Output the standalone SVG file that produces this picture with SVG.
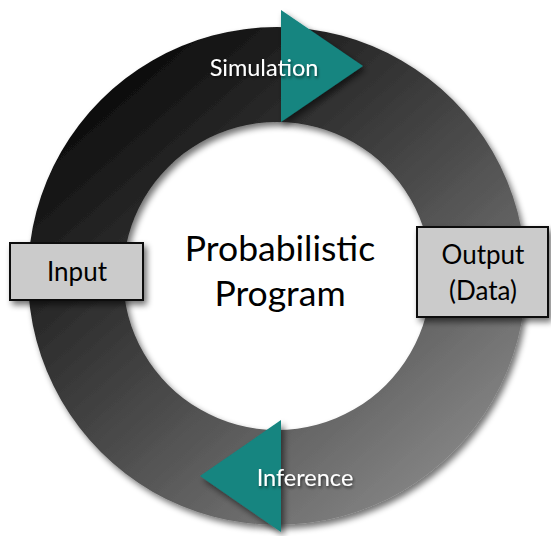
<svg xmlns="http://www.w3.org/2000/svg" width="551" height="536" viewBox="0 0 551 536">
<defs>
<linearGradient id="ringGrad" x1="0.15" y1="0.1" x2="0.85" y2="0.9">
<stop offset="0" stop-color="#0a0a0a"/>
<stop offset="0.5" stop-color="#464646"/>
<stop offset="1" stop-color="#858585"/>
</linearGradient>
<filter id="shadow" x="-20%" y="-20%" width="150%" height="150%">
<feGaussianBlur in="SourceAlpha" stdDeviation="3"/>
<feOffset dx="3" dy="4" result="b"/>
<feComponentTransfer><feFuncA type="linear" slope="0.55"/></feComponentTransfer>
<feMerge><feMergeNode/><feMergeNode in="SourceGraphic"/></feMerge>
</filter>
<filter id="tshadow" x="-20%" y="-30%" width="140%" height="170%">
<feGaussianBlur in="SourceAlpha" stdDeviation="1.5"/>
<feOffset dx="1" dy="2"/>
<feComponentTransfer><feFuncA type="linear" slope="0.6"/></feComponentTransfer>
<feMerge><feMergeNode/><feMergeNode in="SourceGraphic"/></feMerge>
</filter>
</defs>
<style>
.box{fill:#cbcbcb;stroke:#111;stroke-width:2}
.lbl{font-family:Lato,"Open Sans","Liberation Sans",sans-serif;fill:#000;text-anchor:middle}
.wl{font-family:Lato,"Open Sans","Liberation Sans",sans-serif;fill:#fff;font-size:23.5px;text-anchor:middle}
.arrow{fill:#138580}
</style>
<rect width="551" height="536" fill="#fff"/>
<g id="connectors">
<path d="M277,27 A249,249 0 1 1 276.9,27 Z M277,122 A154,154 0 1 0 277.1,122 Z" fill="url(#ringGrad)" fill-rule="evenodd" filter="url(#shadow)"/>
<polygon class="arrow" points="281,10 363,66 281,122" filter="url(#shadow)"/>
<polygon class="arrow" points="281,420 200,476 281,532" filter="url(#shadow)"/>
<text class="wl" x="264" y="76" filter="url(#tshadow)">Simulation</text>
<text class="wl" x="305" y="486" filter="url(#tshadow)">Inference</text>
</g>
<g id="center">
<text class="lbl" x="280" y="261" font-size="35.5">Probabilistic</text>
<text class="lbl" x="280" y="306" font-size="35.5">Program</text>
</g>
<g id="input">
<rect class="box" x="10" y="243" width="133" height="57" filter="url(#shadow)"/>
<text class="lbl" x="77" y="281" font-size="26">Input</text>
</g>
<g id="output">
<rect class="box" x="417" y="227" width="131" height="90" filter="url(#shadow)"/>
<text class="lbl" x="483" y="264" font-size="26">Output</text>
<text class="lbl" x="483" y="300" font-size="26">(Data)</text>
</g>
</svg>
